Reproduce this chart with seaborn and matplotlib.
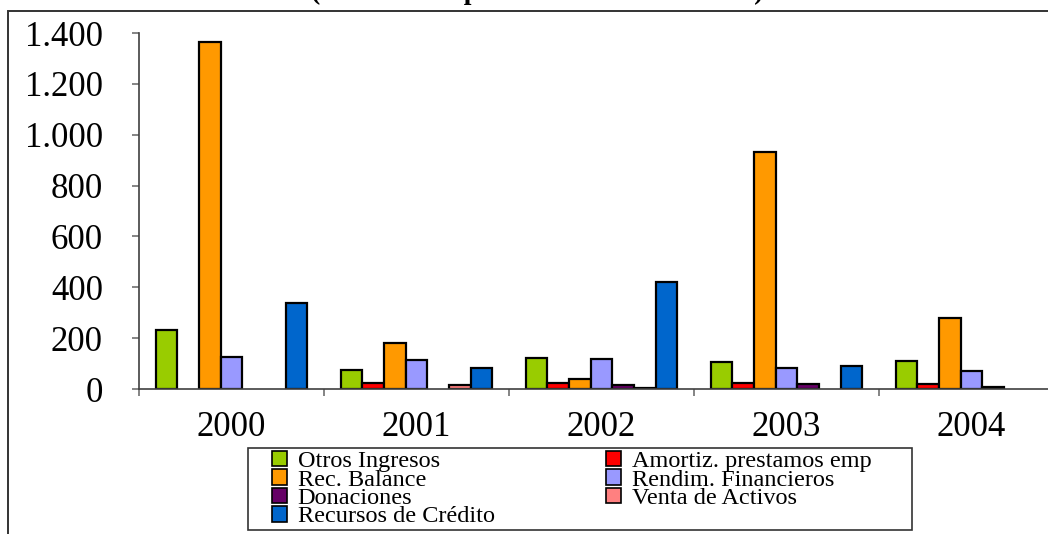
import numpy as np
import pandas as pd
import matplotlib
matplotlib.use('Agg')
import matplotlib.pyplot as plt
from matplotlib.patches import Patch, Rectangle
from matplotlib.ticker import FuncFormatter, FixedLocator
import seaborn as sns

years = ['2000', '2001', '2002', '2003', '2004']
series = ['Otros Ingresos', 'Amortiz. prestamos emp', 'Rec. Balance',
          'Rendim. Financieros', 'Donaciones', 'Venta de Activos',
          'Recursos de Crédito']
otros_ingresos = [232, 75, 121, 107, 111]
amortiz_prestamos = [None, 22, 22, 22, 20]
rec_balance = [1364, 180, 41, 932, 278]
rendim_financieros = [126, 113, 118, 81, 72]
donaciones = [None, None, 14, 18, 8]
venta_activos = [None, 16, 3, None, None]
recursos_credito = [339, 81, 422, 89, None]
colors = ['#99CC00', '#FF0000', '#FF9900', '#9999FF', '#660066', '#FF8080', '#0066CC']

values = [otros_ingresos, amortiz_prestamos, rec_balance, rendim_financieros,
          donaciones, venta_activos, recursos_credito]
rows = []
for name, vals in zip(series, values):
    for yr, v in zip(years, vals):
        rows.append({'Año': yr, 'Concepto': name, 'Valor': v})
df = pd.DataFrame(rows).dropna()

sns.set_theme(style='white')
plt.rcParams['font.family'] = ['Liberation Serif', 'DejaVu Serif']
plt.rcParams['text.color'] = 'black'
plt.rcParams['xtick.labelcolor'] = 'black'
plt.rcParams['ytick.labelcolor'] = 'black'

fig = plt.figure(figsize=(10.48, 5.34), dpi=100)
ax = fig.add_axes([139/1048, 145/534, 925/1048, 356/534])

sns.barplot(data=df, x='Año', y='Valor', hue='Concepto', order=years,
            hue_order=series, palette=colors, saturation=1, width=0.82,
            edgecolor='black', linewidth=1.6, legend=False, ax=ax)

ax.set_xlim(-0.5, 4.5)
ax.set_ylim(0, 1400)
ax.set_yticks(np.arange(0, 1401, 200))
ax.yaxis.set_major_formatter(FuncFormatter(lambda v, p: f"{int(v):,}".replace(',', '.')))
ax.set_xlabel('')
ax.set_ylabel('')
for s in ['top', 'right']:
    ax.spines[s].set_visible(False)
for s in ['left', 'bottom']:
    ax.spines[s].set_color('#404040')
    ax.spines[s].set_linewidth(1.2)
ax.tick_params(axis='y', which='major', left=True, length=5, width=1.2,
               color='#707070', pad=21, labelsize=25, labelcolor='black')
ax.tick_params(axis='x', which='major', bottom=False, length=0, pad=16,
               labelsize=25, labelcolor='black')
ax.xaxis.set_minor_locator(FixedLocator(np.arange(-0.5, 5, 1.0)))
ax.tick_params(axis='x', which='minor', bottom=True, length=5, width=1.2,
               color='#707070', direction='out')

# title of the page, cut at the top edge as in the source
fig.text(537/1048, 1 + 1/534, '(Millones de pesos constantes de 2004)',
         ha='center', va='baseline', fontsize=20, fontweight='bold')

fig.patches.append(Rectangle((8/1048, -0.5), 2, 1 - 11/534 + 0.5,
                             transform=fig.transFigure, fill=False,
                             edgecolor='#333333', linewidth=1.4))
fig.patches.append(Rectangle((248/1048, 4/534), 664/1048, 82/534,
                             transform=fig.transFigure, fill=False,
                             edgecolor='#333333', linewidth=1.2))

handles = [Patch(facecolor=c, edgecolor='black', linewidth=1.2) for c in colors]
order = [0, 2, 4, 6, 1, 3, 5]
fig.legend([handles[i] for i in order], [series[i] for i in order], ncol=2,
           loc='upper left', bbox_to_anchor=(272/1048, 1 - 451/534),
           frameon=False, fontsize=17.5, handlelength=0.6, handleheight=0.6,
           handletextpad=0.45, labelspacing=-0.12, columnspacing=4.6,
           borderpad=0, borderaxespad=0)

fig.savefig('out.png', dpi=100)
